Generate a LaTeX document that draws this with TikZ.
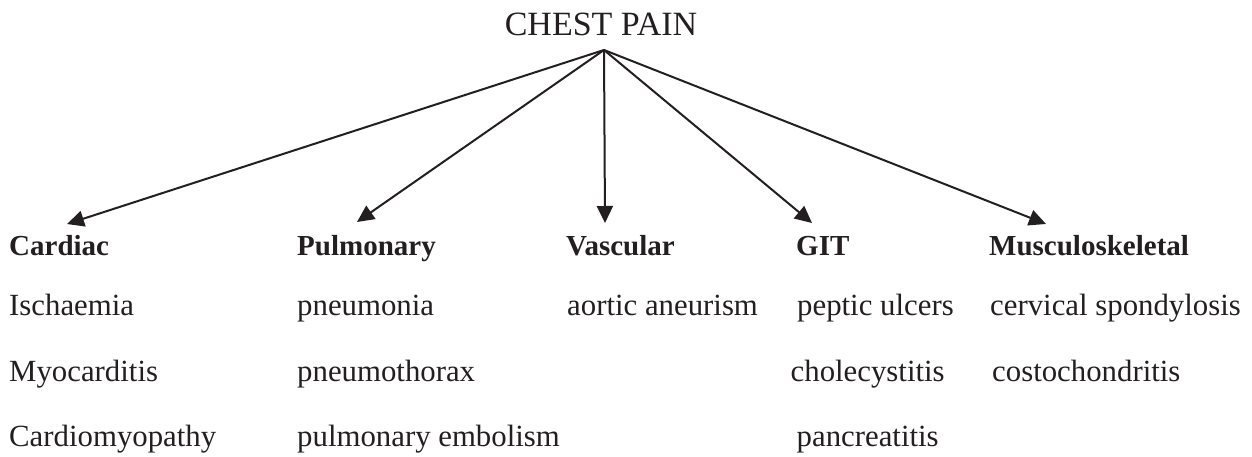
\documentclass[tikz,border=0pt]{standalone}
\usepackage{fontspec}
\setmainfont{Liberation Serif}
\usetikzlibrary{arrows.meta}
\definecolor{ink}{HTML}{231F20}
\begin{document}
\begin{tikzpicture}[x=1pt,y=-1pt,
  lbl/.style={anchor=base west,inner sep=0pt,text=ink,font=\fontsize{30.8}{36}\selectfont},
  hdr/.style={anchor=base west,inner sep=0pt,text=ink,font=\fontsize{29}{34}\selectfont\bfseries},
  arr/.style={draw=ink,line width=2pt,-{Triangle[length=17pt,width=16pt]}}]
\useasboundingbox (0,0) rectangle (1252,457);
\node[anchor=base,inner sep=0pt,text=ink,font=\fontsize{34}{40}\selectfont] (title) at (601,36) {CHEST PAIN};
\coordinate (top) at (604,50);
% headers
\node[hdr] (cardiac) at (9,255) {Cardiac};
\node[hdr] (pulm) at (297,255) {Pulmonary};
\node[hdr] (vasc) at (566,255) {Vascular};
\node[hdr] (git) at (796,255) {GIT};
\node[hdr] (musc) at (989,255) {Musculoskeletal};
% arrow tips
\coordinate (t1) at (67,224);
\coordinate (t2) at (357,222);
\coordinate (t3) at (605,223);
\coordinate (t4) at (812,223);
\coordinate (t5) at (1046,224);
\draw[arr] (top) -- (t1);
\draw[arr] (top) -- (t2);
\draw[arr] (top) -- (t3);
\draw[arr] (top) -- (t4);
\draw[arr] (top) -- (t5);
% items
\node[lbl] (c1) at (9,315) {Ischaemia};
\node[lbl] (c2) at (9,381.5) {Myocarditis};
\node[lbl] (c3) at (9,446) {Cardiomyopathy};
\node[lbl] (p1) at (297,315) {pneumonia};
\node[lbl] (p2) at (297,381.5) {pneumothorax};
\node[lbl] (p3) at (297,446) {pulmonary embolism};
\node[lbl] (v1) at (567,315) {aortic aneurism};
\node[lbl] (g1) at (797,315) {peptic ulcers};
\node[lbl] (g2) at (790.5,381.5) {cholecystitis};
\node[lbl] (g3) at (796.5,446) {pancreatitis};
\node[lbl] (m1) at (990,315) {cervical spondylosis};
\node[lbl] (m2) at (992,381.5) {costochondritis};
\end{tikzpicture}
\end{document}
